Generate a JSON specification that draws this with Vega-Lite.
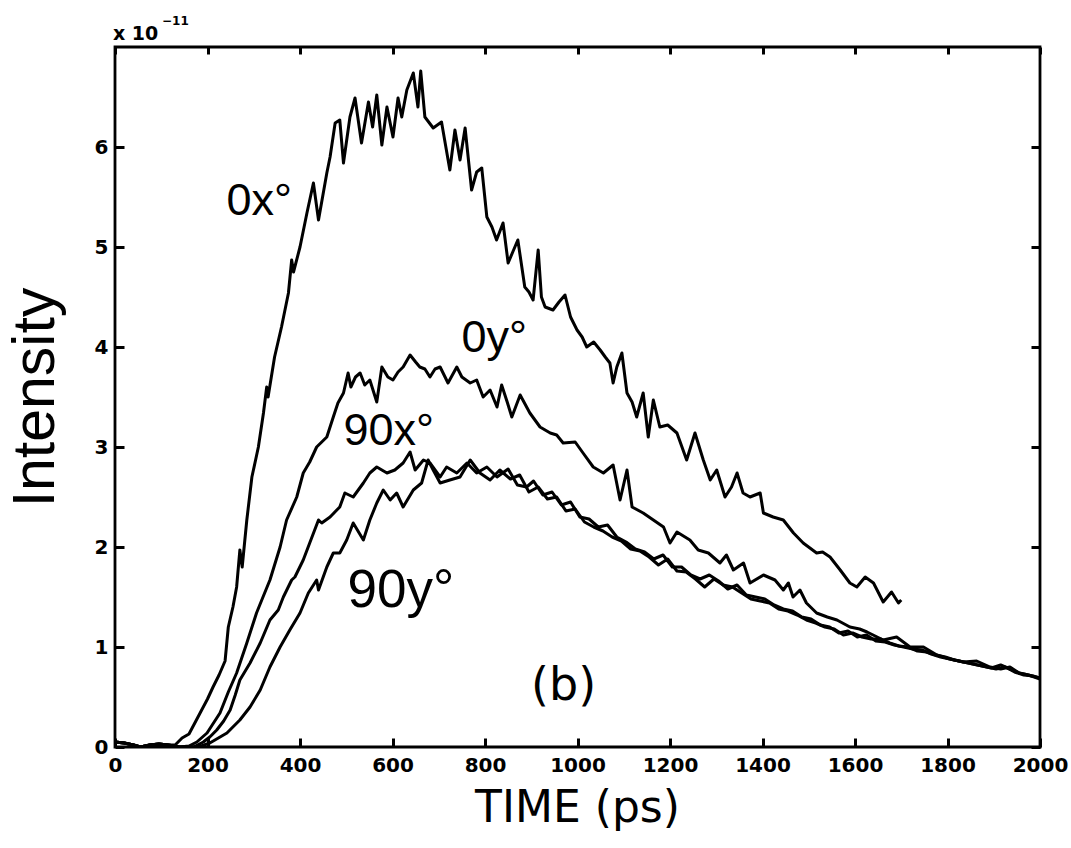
{
  "$schema": "https://vega.github.io/schema/vega-lite/v6.json",
  "width": 925,
  "height": 700,
  "autosize": "none",
  "padding": {"left": 115, "top": 47, "right": 31, "bottom": 101},
  "background": "white",
  "config": {
    "view": {"stroke": "black", "strokeWidth": 2.8},
    "font": "Liberation Sans"
  },
  "datasets": {
    "curves": [
      {"s":"0x","t":0,"v":0.05},{"s":"0x","t":20,"v":0.04},{"s":"0x","t":40,"v":0.02},{"s":"0x","t":55,"v":0.0},{"s":"0x","t":75,"v":0.02},{"s":"0x","t":95,"v":0.03},{"s":"0x","t":115,"v":0.02},{"s":"0x","t":130,"v":0.02},{"s":"0x","t":145,"v":0.09},{"s":"0x","t":160,"v":0.13},{"s":"0x","t":184,"v":0.34},{"s":"0x","t":200,"v":0.48},{"s":"0x","t":212,"v":0.6},{"s":"0x","t":225,"v":0.72},{"s":"0x","t":238,"v":0.86},{"s":"0x","t":245,"v":1.2},{"s":"0x","t":255,"v":1.4},{"s":"0x","t":263,"v":1.6},{"s":"0x","t":270,"v":1.97},{"s":"0x","t":275,"v":1.8},{"s":"0x","t":285,"v":2.27},{"s":"0x","t":296,"v":2.7},{"s":"0x","t":310,"v":3.0},{"s":"0x","t":321,"v":3.34},{"s":"0x","t":328,"v":3.6},{"s":"0x","t":331,"v":3.5},{"s":"0x","t":345,"v":3.9},{"s":"0x","t":360,"v":4.2},{"s":"0x","t":375,"v":4.54},{"s":"0x","t":382,"v":4.87},{"s":"0x","t":386,"v":4.75},{"s":"0x","t":400,"v":5.0},{"s":"0x","t":415,"v":5.34},{"s":"0x","t":429,"v":5.64},{"s":"0x","t":440,"v":5.27},{"s":"0x","t":458,"v":5.74},{"s":"0x","t":465,"v":5.9},{"s":"0x","t":476,"v":6.24},{"s":"0x","t":486,"v":6.27},{"s":"0x","t":494,"v":5.84},{"s":"0x","t":508,"v":6.3},{"s":"0x","t":519,"v":6.49},{"s":"0x","t":533,"v":6.04},{"s":"0x","t":548,"v":6.45},{"s":"0x","t":557,"v":6.2},{"s":"0x","t":566,"v":6.52},{"s":"0x","t":577,"v":6.02},{"s":"0x","t":588,"v":6.4},{"s":"0x","t":601,"v":6.1},{"s":"0x","t":612,"v":6.49},{"s":"0x","t":620,"v":6.3},{"s":"0x","t":631,"v":6.57},{"s":"0x","t":645,"v":6.74},{"s":"0x","t":655,"v":6.4},{"s":"0x","t":661,"v":6.76},{"s":"0x","t":670,"v":6.3},{"s":"0x","t":688,"v":6.19},{"s":"0x","t":706,"v":6.25},{"s":"0x","t":724,"v":5.77},{"s":"0x","t":735,"v":6.17},{"s":"0x","t":746,"v":5.87},{"s":"0x","t":757,"v":6.19},{"s":"0x","t":771,"v":5.57},{"s":"0x","t":782,"v":5.75},{"s":"0x","t":793,"v":5.79},{"s":"0x","t":804,"v":5.3},{"s":"0x","t":815,"v":5.2},{"s":"0x","t":825,"v":5.07},{"s":"0x","t":839,"v":5.24},{"s":"0x","t":850,"v":4.84},{"s":"0x","t":860,"v":4.95},{"s":"0x","t":871,"v":5.07},{"s":"0x","t":886,"v":4.6},{"s":"0x","t":895,"v":4.55},{"s":"0x","t":904,"v":4.47},{"s":"0x","t":915,"v":4.97},{"s":"0x","t":922,"v":4.5},{"s":"0x","t":930,"v":4.4},{"s":"0x","t":947,"v":4.37},{"s":"0x","t":960,"v":4.45},{"s":"0x","t":973,"v":4.52},{"s":"0x","t":985,"v":4.3},{"s":"0x","t":999,"v":4.17},{"s":"0x","t":1010,"v":4.1},{"s":"0x","t":1020,"v":4.0},{"s":"0x","t":1035,"v":4.05},{"s":"0x","t":1049,"v":3.97},{"s":"0x","t":1060,"v":3.9},{"s":"0x","t":1070,"v":3.84},{"s":"0x","t":1077,"v":3.64},{"s":"0x","t":1085,"v":3.8},{"s":"0x","t":1096,"v":3.94},{"s":"0x","t":1107,"v":3.54},{"s":"0x","t":1118,"v":3.45},{"s":"0x","t":1128,"v":3.3},{"s":"0x","t":1142,"v":3.54},{"s":"0x","t":1153,"v":3.1},{"s":"0x","t":1164,"v":3.47},{"s":"0x","t":1178,"v":3.2},{"s":"0x","t":1195,"v":3.22},{"s":"0x","t":1215,"v":3.14},{"s":"0x","t":1236,"v":2.87},{"s":"0x","t":1254,"v":3.14},{"s":"0x","t":1272,"v":2.87},{"s":"0x","t":1287,"v":2.67},{"s":"0x","t":1301,"v":2.77},{"s":"0x","t":1319,"v":2.5},{"s":"0x","t":1333,"v":2.6},{"s":"0x","t":1345,"v":2.74},{"s":"0x","t":1358,"v":2.54},{"s":"0x","t":1373,"v":2.5},{"s":"0x","t":1395,"v":2.54},{"s":"0x","t":1402,"v":2.34},{"s":"0x","t":1423,"v":2.3},{"s":"0x","t":1445,"v":2.27},{"s":"0x","t":1467,"v":2.14},{"s":"0x","t":1488,"v":2.04},{"s":"0x","t":1517,"v":1.94},{"s":"0x","t":1530,"v":1.95},{"s":"0x","t":1546,"v":1.9},{"s":"0x","t":1568,"v":1.77},{"s":"0x","t":1589,"v":1.64},{"s":"0x","t":1604,"v":1.6},{"s":"0x","t":1622,"v":1.7},{"s":"0x","t":1640,"v":1.64},{"s":"0x","t":1661,"v":1.45},{"s":"0x","t":1679,"v":1.55},{"s":"0x","t":1694,"v":1.44},{"s":"0x","t":1700,"v":1.47},

      {"s":"0y","t":0,"v":0.05},{"s":"0y","t":20,"v":0.04},{"s":"0y","t":40,"v":0.02},{"s":"0y","t":55,"v":0.0},{"s":"0y","t":75,"v":0.02},{"s":"0y","t":95,"v":0.03},{"s":"0y","t":115,"v":0.02},{"s":"0y","t":140,"v":0.0},{"s":"0y","t":160,"v":0.01},{"s":"0y","t":177,"v":0.05},{"s":"0y","t":199,"v":0.14},{"s":"0y","t":227,"v":0.34},{"s":"0y","t":245,"v":0.55},{"s":"0y","t":263,"v":0.74},{"s":"0y","t":285,"v":1.04},{"s":"0y","t":306,"v":1.34},{"s":"0y","t":320,"v":1.5},{"s":"0y","t":335,"v":1.67},{"s":"0y","t":357,"v":2.0},{"s":"0y","t":371,"v":2.27},{"s":"0y","t":393,"v":2.5},{"s":"0y","t":407,"v":2.74},{"s":"0y","t":421,"v":2.85},{"s":"0y","t":436,"v":3.0},{"s":"0y","t":458,"v":3.1},{"s":"0y","t":472,"v":3.3},{"s":"0y","t":482,"v":3.44},{"s":"0y","t":494,"v":3.54},{"s":"0y","t":504,"v":3.74},{"s":"0y","t":510,"v":3.6},{"s":"0y","t":520,"v":3.7},{"s":"0y","t":530,"v":3.74},{"s":"0y","t":540,"v":3.62},{"s":"0y","t":551,"v":3.67},{"s":"0y","t":566,"v":3.45},{"s":"0y","t":577,"v":3.8},{"s":"0y","t":590,"v":3.7},{"s":"0y","t":601,"v":3.67},{"s":"0y","t":612,"v":3.75},{"s":"0y","t":623,"v":3.8},{"s":"0y","t":638,"v":3.92},{"s":"0y","t":650,"v":3.85},{"s":"0y","t":659,"v":3.8},{"s":"0y","t":670,"v":3.78},{"s":"0y","t":681,"v":3.7},{"s":"0y","t":692,"v":3.78},{"s":"0y","t":703,"v":3.8},{"s":"0y","t":720,"v":3.64},{"s":"0y","t":739,"v":3.8},{"s":"0y","t":750,"v":3.7},{"s":"0y","t":768,"v":3.64},{"s":"0y","t":782,"v":3.67},{"s":"0y","t":796,"v":3.5},{"s":"0y","t":811,"v":3.57},{"s":"0y","t":826,"v":3.4},{"s":"0y","t":836,"v":3.62},{"s":"0y","t":848,"v":3.45},{"s":"0y","t":858,"v":3.3},{"s":"0y","t":876,"v":3.52},{"s":"0y","t":897,"v":3.34},{"s":"0y","t":919,"v":3.2},{"s":"0y","t":941,"v":3.14},{"s":"0y","t":955,"v":3.12},{"s":"0y","t":969,"v":3.04},{"s":"0y","t":995,"v":3.05},{"s":"0y","t":1012,"v":2.94},{"s":"0y","t":1034,"v":2.8},{"s":"0y","t":1056,"v":2.74},{"s":"0y","t":1077,"v":2.82},{"s":"0y","t":1092,"v":2.47},{"s":"0y","t":1107,"v":2.77},{"s":"0y","t":1118,"v":2.4},{"s":"0y","t":1142,"v":2.34},{"s":"0y","t":1164,"v":2.27},{"s":"0y","t":1186,"v":2.2},{"s":"0y","t":1200,"v":2.04},{"s":"0y","t":1215,"v":2.15},{"s":"0y","t":1243,"v":2.07},{"s":"0y","t":1261,"v":1.97},{"s":"0y","t":1283,"v":1.94},{"s":"0y","t":1308,"v":1.84},{"s":"0y","t":1322,"v":1.92},{"s":"0y","t":1337,"v":1.77},{"s":"0y","t":1359,"v":1.84},{"s":"0y","t":1373,"v":1.64},{"s":"0y","t":1402,"v":1.72},{"s":"0y","t":1427,"v":1.67},{"s":"0y","t":1445,"v":1.57},{"s":"0y","t":1456,"v":1.64},{"s":"0y","t":1466,"v":1.5},{"s":"0y","t":1481,"v":1.57},{"s":"0y","t":1495,"v":1.44},{"s":"0y","t":1517,"v":1.34},{"s":"0y","t":1540,"v":1.3},{"s":"0y","t":1561,"v":1.27},{"s":"0y","t":1589,"v":1.2},{"s":"0y","t":1610,"v":1.18},{"s":"0y","t":1626,"v":1.15},{"s":"0y","t":1661,"v":1.07},{"s":"0y","t":1690,"v":1.1},{"s":"0y","t":1719,"v":1.0},{"s":"0y","t":1748,"v":1.0},{"s":"0y","t":1777,"v":0.92},{"s":"0y","t":1805,"v":0.88},{"s":"0y","t":1834,"v":0.85},{"s":"0y","t":1863,"v":0.86},{"s":"0y","t":1892,"v":0.8},{"s":"0y","t":1915,"v":0.78},{"s":"0y","t":1935,"v":0.8},{"s":"0y","t":1955,"v":0.74},{"s":"0y","t":1975,"v":0.72},{"s":"0y","t":2000,"v":0.68},

      {"s":"90x","t":0,"v":0.05},{"s":"90x","t":20,"v":0.04},{"s":"90x","t":40,"v":0.02},{"s":"90x","t":55,"v":0.0},{"s":"90x","t":75,"v":0.02},{"s":"90x","t":95,"v":0.03},{"s":"90x","t":115,"v":0.02},{"s":"90x","t":140,"v":0.0},{"s":"90x","t":170,"v":0.0},{"s":"90x","t":191,"v":0.05},{"s":"90x","t":205,"v":0.1},{"s":"90x","t":220,"v":0.17},{"s":"90x","t":235,"v":0.26},{"s":"90x","t":249,"v":0.37},{"s":"90x","t":260,"v":0.52},{"s":"90x","t":270,"v":0.67},{"s":"90x","t":292,"v":0.84},{"s":"90x","t":314,"v":1.04},{"s":"90x","t":335,"v":1.27},{"s":"90x","t":353,"v":1.37},{"s":"90x","t":364,"v":1.5},{"s":"90x","t":382,"v":1.67},{"s":"90x","t":389,"v":1.7},{"s":"90x","t":407,"v":1.87},{"s":"90x","t":421,"v":2.04},{"s":"90x","t":440,"v":2.27},{"s":"90x","t":447,"v":2.24},{"s":"90x","t":465,"v":2.3},{"s":"90x","t":486,"v":2.4},{"s":"90x","t":497,"v":2.54},{"s":"90x","t":515,"v":2.5},{"s":"90x","t":537,"v":2.64},{"s":"90x","t":551,"v":2.74},{"s":"90x","t":566,"v":2.8},{"s":"90x","t":588,"v":2.74},{"s":"90x","t":605,"v":2.77},{"s":"90x","t":623,"v":2.84},{"s":"90x","t":638,"v":2.95},{"s":"90x","t":649,"v":2.77},{"s":"90x","t":667,"v":2.87},{"s":"90x","t":681,"v":2.84},{"s":"90x","t":703,"v":2.7},{"s":"90x","t":717,"v":2.8},{"s":"90x","t":739,"v":2.74},{"s":"90x","t":761,"v":2.84},{"s":"90x","t":782,"v":2.74},{"s":"90x","t":804,"v":2.8},{"s":"90x","t":826,"v":2.7},{"s":"90x","t":850,"v":2.78},{"s":"90x","t":870,"v":2.62},{"s":"90x","t":890,"v":2.6},{"s":"90x","t":905,"v":2.66},{"s":"90x","t":925,"v":2.52},{"s":"90x","t":945,"v":2.55},{"s":"90x","t":965,"v":2.42},{"s":"90x","t":985,"v":2.45},{"s":"90x","t":1005,"v":2.3},{"s":"90x","t":1025,"v":2.28},{"s":"90x","t":1045,"v":2.2},{"s":"90x","t":1065,"v":2.22},{"s":"90x","t":1085,"v":2.1},{"s":"90x","t":1105,"v":2.05},{"s":"90x","t":1125,"v":1.98},{"s":"90x","t":1145,"v":1.95},{"s":"90x","t":1165,"v":1.88},{"s":"90x","t":1185,"v":1.92},{"s":"90x","t":1205,"v":1.8},{"s":"90x","t":1225,"v":1.8},{"s":"90x","t":1245,"v":1.72},{"s":"90x","t":1265,"v":1.68},{"s":"90x","t":1285,"v":1.72},{"s":"90x","t":1305,"v":1.66},{"s":"90x","t":1325,"v":1.58},{"s":"90x","t":1345,"v":1.62},{"s":"90x","t":1365,"v":1.52},{"s":"90x","t":1385,"v":1.5},{"s":"90x","t":1405,"v":1.48},{"s":"90x","t":1425,"v":1.42},{"s":"90x","t":1445,"v":1.38},{"s":"90x","t":1465,"v":1.36},{"s":"90x","t":1485,"v":1.3},{"s":"90x","t":1505,"v":1.28},{"s":"90x","t":1525,"v":1.22},{"s":"90x","t":1545,"v":1.2},{"s":"90x","t":1565,"v":1.14},{"s":"90x","t":1585,"v":1.16},{"s":"90x","t":1605,"v":1.1},{"s":"90x","t":1625,"v":1.12},{"s":"90x","t":1645,"v":1.06},{"s":"90x","t":1665,"v":1.05},{"s":"90x","t":1685,"v":1.02},{"s":"90x","t":1705,"v":1.0},{"s":"90x","t":1725,"v":0.98},{"s":"90x","t":1745,"v":0.97},{"s":"90x","t":1765,"v":0.93},{"s":"90x","t":1785,"v":0.9},{"s":"90x","t":1805,"v":0.88},{"s":"90x","t":1825,"v":0.86},{"s":"90x","t":1845,"v":0.84},{"s":"90x","t":1865,"v":0.82},{"s":"90x","t":1885,"v":0.8},{"s":"90x","t":1905,"v":0.78},{"s":"90x","t":1925,"v":0.8},{"s":"90x","t":1945,"v":0.75},{"s":"90x","t":1965,"v":0.72},{"s":"90x","t":1985,"v":0.71},{"s":"90x","t":2000,"v":0.69},

      {"s":"90y","t":0,"v":0.05},{"s":"90y","t":20,"v":0.04},{"s":"90y","t":40,"v":0.02},{"s":"90y","t":55,"v":0.0},{"s":"90y","t":75,"v":0.02},{"s":"90y","t":95,"v":0.03},{"s":"90y","t":115,"v":0.02},{"s":"90y","t":140,"v":0.0},{"s":"90y","t":180,"v":0.0},{"s":"90y","t":205,"v":0.04},{"s":"90y","t":242,"v":0.14},{"s":"90y","t":270,"v":0.27},{"s":"90y","t":292,"v":0.4},{"s":"90y","t":314,"v":0.57},{"s":"90y","t":335,"v":0.8},{"s":"90y","t":357,"v":1.0},{"s":"90y","t":378,"v":1.17},{"s":"90y","t":400,"v":1.34},{"s":"90y","t":418,"v":1.54},{"s":"90y","t":436,"v":1.67},{"s":"90y","t":440,"v":1.57},{"s":"90y","t":458,"v":1.8},{"s":"90y","t":472,"v":1.94},{"s":"90y","t":486,"v":1.94},{"s":"90y","t":501,"v":2.07},{"s":"90y","t":515,"v":2.24},{"s":"90y","t":537,"v":2.07},{"s":"90y","t":551,"v":2.27},{"s":"90y","t":566,"v":2.44},{"s":"90y","t":580,"v":2.57},{"s":"90y","t":595,"v":2.47},{"s":"90y","t":609,"v":2.54},{"s":"90y","t":623,"v":2.4},{"s":"90y","t":645,"v":2.57},{"s":"90y","t":663,"v":2.64},{"s":"90y","t":677,"v":2.87},{"s":"90y","t":688,"v":2.77},{"s":"90y","t":703,"v":2.64},{"s":"90y","t":724,"v":2.67},{"s":"90y","t":746,"v":2.7},{"s":"90y","t":768,"v":2.87},{"s":"90y","t":789,"v":2.74},{"s":"90y","t":811,"v":2.67},{"s":"90y","t":832,"v":2.77},{"s":"90y","t":855,"v":2.68},{"s":"90y","t":875,"v":2.72},{"s":"90y","t":895,"v":2.55},{"s":"90y","t":915,"v":2.6},{"s":"90y","t":935,"v":2.48},{"s":"90y","t":955,"v":2.5},{"s":"90y","t":975,"v":2.36},{"s":"90y","t":995,"v":2.38},{"s":"90y","t":1015,"v":2.25},{"s":"90y","t":1035,"v":2.2},{"s":"90y","t":1055,"v":2.16},{"s":"90y","t":1075,"v":2.1},{"s":"90y","t":1095,"v":2.06},{"s":"90y","t":1115,"v":1.98},{"s":"90y","t":1135,"v":1.96},{"s":"90y","t":1155,"v":1.9},{"s":"90y","t":1175,"v":1.82},{"s":"90y","t":1195,"v":1.88},{"s":"90y","t":1215,"v":1.76},{"s":"90y","t":1235,"v":1.75},{"s":"90y","t":1255,"v":1.68},{"s":"90y","t":1275,"v":1.6},{"s":"90y","t":1295,"v":1.68},{"s":"90y","t":1315,"v":1.62},{"s":"90y","t":1335,"v":1.6},{"s":"90y","t":1355,"v":1.54},{"s":"90y","t":1375,"v":1.48},{"s":"90y","t":1395,"v":1.46},{"s":"90y","t":1415,"v":1.44},{"s":"90y","t":1435,"v":1.38},{"s":"90y","t":1455,"v":1.36},{"s":"90y","t":1475,"v":1.32},{"s":"90y","t":1495,"v":1.27},{"s":"90y","t":1515,"v":1.24},{"s":"90y","t":1535,"v":1.2},{"s":"90y","t":1555,"v":1.18},{"s":"90y","t":1575,"v":1.12},{"s":"90y","t":1595,"v":1.14},{"s":"90y","t":1615,"v":1.1},{"s":"90y","t":1635,"v":1.08},{"s":"90y","t":1655,"v":1.08},{"s":"90y","t":1675,"v":1.04},{"s":"90y","t":1695,"v":1.01},{"s":"90y","t":1715,"v":1.0},{"s":"90y","t":1735,"v":0.96},{"s":"90y","t":1755,"v":0.95},{"s":"90y","t":1775,"v":0.92},{"s":"90y","t":1795,"v":0.9},{"s":"90y","t":1815,"v":0.87},{"s":"90y","t":1835,"v":0.85},{"s":"90y","t":1855,"v":0.83},{"s":"90y","t":1875,"v":0.81},{"s":"90y","t":1895,"v":0.79},{"s":"90y","t":1915,"v":0.82},{"s":"90y","t":1935,"v":0.78},{"s":"90y","t":1955,"v":0.74},{"s":"90y","t":1975,"v":0.72},{"s":"90y","t":2000,"v":0.69}
    ],
    "labels": [
      {"t": 312, "v": 5.32, "label": "0x°"},
      {"t": 820, "v": 3.95, "label": "0y°"},
      {"t": 592, "v": 3.02, "label": "90x°"}
    ],
    "big": [
      {"t": 618, "v": 1.4, "label": "90y°"}
    ],
    "panel": [
      {"t": 970, "v": 0.47, "label": "(b)"}
    ],
    "scale10": [
      {"t": 0, "v": 7, "label": "x 10"}
    ],
    "exp": [
      {"t": 0, "v": 7, "label": "−11"}
    ]
  },
  "layer": [
    {
      "data": {"name": "curves"},
      "mark": {"type": "line", "color": "black", "strokeWidth": 3, "strokeJoin": "round", "clip": true},
      "encoding": {
        "x": {
          "field": "t", "type": "quantitative",
          "scale": {"domain": [0, 2000], "nice": false, "zero": false},
          "axis": {
            "orient": "bottom", "offset": -9, "values": [0,200,400,600,800,1000,1200,1400,1600,1800,2000],
            "format": "d", "domain": false, "grid": false, "zindex": 2,
            "ticks": true, "tickSize": 9, "tickWidth": 3, "tickColor": "black",
            "labelFontSize": 20, "labelFontWeight": "bold", "labelColor": "black",
            "labelFont": "DejaVu Sans", "labelPadding": 8, "labelFlush": false, "labelOverlap": false,
            "title": "TIME (ps)", "titleFontSize": 44, "titleFontWeight": "normal", "titleColor": "black",
            "titleFont": "DejaVu Sans", "titleBaseline": "alphabetic", "titleY": 83, "titleX": 462
          }
        },
        "y": {
          "field": "v", "type": "quantitative",
          "scale": {"domain": [0, 7], "nice": false, "zero": false},
          "axis": {
            "orient": "left", "offset": -9, "values": [0,1,2,3,4,5,6], "format": "d",
            "domain": false, "grid": false, "zindex": 2,
            "ticks": true, "tickSize": 9, "tickWidth": 3, "tickColor": "black",
            "labelFontSize": 20, "labelFontWeight": "bold", "labelColor": "black",
            "labelFont": "DejaVu Sans", "labelPadding": 7, "labelFlush": false, "labelOverlap": false,
            "title": "Intensity", "titleFontSize": 59, "titleFontWeight": "normal", "titleColor": "black",
            "titleFont": "Liberation Sans", "titleAngle": 270, "titleBaseline": "alphabetic",
            "titleAlign": "center", "titleX": -71, "titleY": 350
          }
        },
        "detail": {"field": "s", "type": "nominal"}
      }
    },
    {
      "data": {"name": "labels"},
      "mark": {"type": "text", "fontSize": 45, "font": "Liberation Sans", "align": "center", "baseline": "alphabetic", "color": "black"},
      "encoding": {
        "x": {
          "field": "t", "type": "quantitative",
          "axis": {
            "orient": "top", "offset": -7, "values": [0,200,400,600,800,1000,1200,1400,1600,1800,2000],
            "labels": false, "domain": false, "grid": false, "title": null, "zindex": 2,
            "ticks": true, "tickSize": 7, "tickWidth": 3, "tickColor": "black"
          }
        },
        "y": {
          "field": "v", "type": "quantitative",
          "axis": {
            "orient": "right", "offset": -9, "values": [0,1,2,3,4,5,6],
            "labels": false, "domain": false, "grid": false, "title": null, "zindex": 2,
            "ticks": true, "tickSize": 9, "tickWidth": 3, "tickColor": "black"
          }
        },
        "text": {"field": "label", "type": "nominal"}
      }
    },
    {
      "data": {"name": "big"},
      "mark": {"type": "text", "fontSize": 53, "font": "Liberation Sans", "align": "center", "baseline": "alphabetic", "color": "black"},
      "encoding": {
        "x": {"field": "t", "type": "quantitative", "axis": null},
        "y": {"field": "v", "type": "quantitative", "axis": null},
        "text": {"field": "label", "type": "nominal"}
      }
    },
    {
      "data": {"name": "panel"},
      "mark": {"type": "text", "fontSize": 46, "font": "DejaVu Sans", "align": "center", "baseline": "alphabetic", "color": "black"},
      "encoding": {
        "x": {"field": "t", "type": "quantitative", "axis": null},
        "y": {"field": "v", "type": "quantitative", "axis": null},
        "text": {"field": "label", "type": "nominal"}
      }
    },
    {
      "data": {"name": "scale10"},
      "mark": {"type": "text", "fontSize": 19, "fontWeight": "bold", "font": "DejaVu Sans", "align": "left", "baseline": "alphabetic", "color": "black", "dx": -2, "dy": -7},
      "encoding": {
        "x": {"field": "t", "type": "quantitative", "axis": null},
        "y": {"field": "v", "type": "quantitative", "axis": null},
        "text": {"field": "label", "type": "nominal"}
      }
    },
    {
      "data": {"name": "exp"},
      "mark": {"type": "text", "fontSize": 12, "fontWeight": "bold", "font": "DejaVu Sans", "align": "left", "baseline": "alphabetic", "color": "black", "dx": 47, "dy": -22},
      "encoding": {
        "x": {"field": "t", "type": "quantitative", "axis": null},
        "y": {"field": "v", "type": "quantitative", "axis": null},
        "text": {"field": "label", "type": "nominal"}
      }
    }
  ],
  "resolve": {"axis": {"x": "independent", "y": "independent"}}
}
